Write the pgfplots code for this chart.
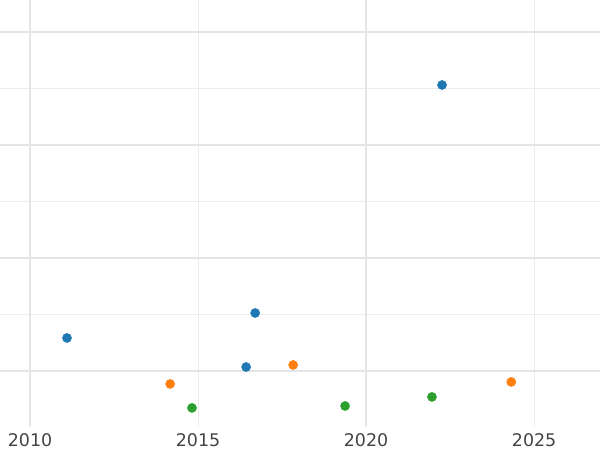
\documentclass[border=0pt]{standalone}
\usepackage{fontspec}
\setmainfont{DejaVu Sans}
\usepackage{pgfplots}
\pgfplotsset{compat=1.18}
\definecolor{tabblue}{HTML}{1F77B4}
\definecolor{taborange}{HTML}{FF7F0E}
\definecolor{tabgreen}{HTML}{2CA02C}
\definecolor{majgrid}{HTML}{E5E5E5}
\definecolor{mingrid}{HTML}{EDEDED}
\definecolor{labgray}{HTML}{444444}
\begin{document}
\begin{tikzpicture}
\begin{axis}[
  scale only axis,
  width=600bp, height=427bp,
  xmin=2009.107, xmax=2026.96,
  ymin=-0.496, ymax=3.283,
  axis line style={draw=none},
  tick style={draw=none},
  major tick length=0pt,
  xtick={2010,2015,2020,2025},
  ytick={0.5,1.5,2.5},
  yticklabels={},
  extra x ticks={2010,2020},
  extra x tick labels={},
  extra x tick style={grid style={majgrid, line width=2bp}},
  extra y ticks={0,1,2,3},
  extra y tick labels={},
  extra y tick style={grid style={majgrid, line width=2bp}},
  grid=major,
  grid style={mingrid, line width=1bp},
  /pgf/number format/1000 sep={},
  /pgf/number format/assume math mode=true,
  xticklabel style={font=\fontsize{17.5}{20}\selectfont, text=labgray, inner sep=0pt, anchor=north, yshift=-6.5bp},
  clip=false,
]
\addplot[only marks, mark=*, mark size=4.6bp, tabblue, mark options={draw=tabblue, fill=tabblue}] coordinates {
  (2022.26,2.531) (2011.10,0.292) (2016.70,0.513) (2016.43,0.035)
};
\addplot[only marks, mark=*, mark size=4.6bp, taborange, mark options={draw=taborange, fill=taborange}] coordinates {
  (2014.17,-0.115) (2017.83,0.053) (2024.32,-0.097)
};
\addplot[only marks, mark=*, mark size=4.6bp, tabgreen, mark options={draw=tabgreen, fill=tabgreen}] coordinates {
  (2014.82,-0.327) (2019.375,-0.310) (2021.96,-0.230)
};
\end{axis}
\pgfresetboundingbox
\path[use as bounding box] (current axis.south west) ++(0,-23bp) rectangle (current axis.north east);
\end{tikzpicture}
\end{document}
